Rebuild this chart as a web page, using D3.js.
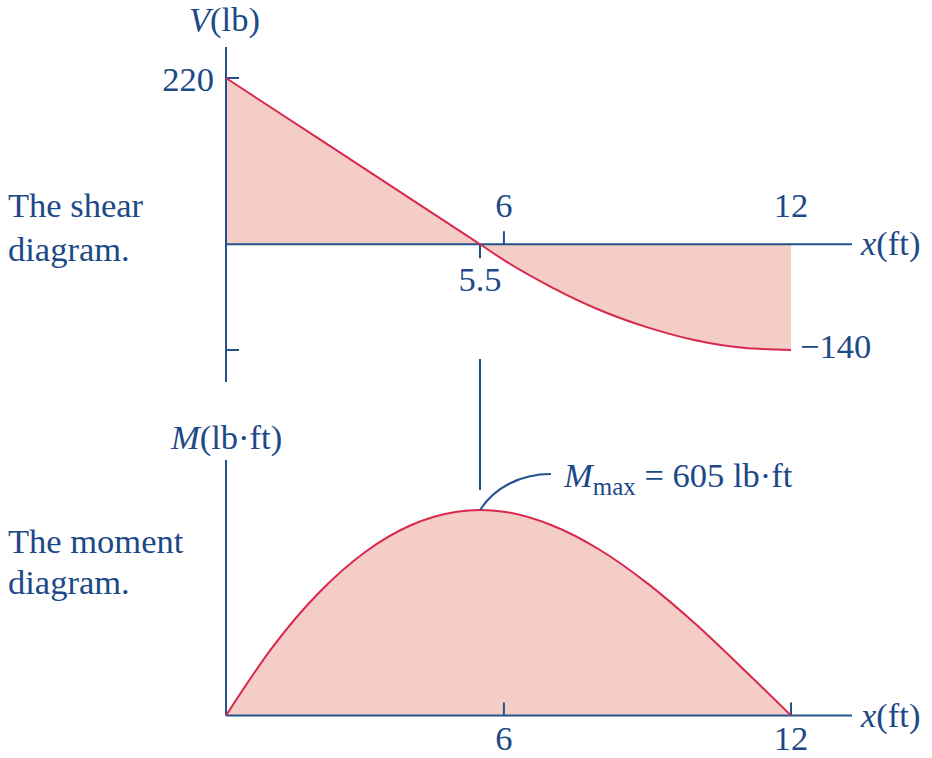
<!DOCTYPE html>
<html>
<head>
<meta charset="utf-8">
<script src="https://cdn.jsdelivr.net/npm/d3@7/dist/d3.min.js"></script>
<style>
  html, body { margin: 0; padding: 0; background: #fff; }
  svg text { font-family: "Liberation Serif", "DejaVu Serif", serif; fill: #1c4987; }
</style>
</head>
<body>
<svg id="chart" width="932" height="758"></svg>
<script>
// Positions along the beam, ft
const xPos = [0, 1, 2, 3, 4, 5, 5.5, 6, 7, 8, 9, 10, 11, 12];
// Shear force V, lb
const shear = [220, 180, 140, 100, 60, 20, 0, -21, -57, -87, -110, -127, -137, -140];
// Bending moment M, lb·ft
const moment = [0, 200, 360, 480, 560, 600, 605, 600, 560, 488, 389, 270, 137, 0];

const shearTicks = [220, -140];
const xTicksTop = [6, 12];
const xTicksBottom = [6, 12];
const zeroShearX = 5.5;
const mMax = 605;

const INK = "#24528c";
const CURVE = "#d8284e";
const FILL = "#f5cdc7";
const FS = 34.5;

const svg = d3.select("#chart");

// beam axis, with the zero-shear point pinned where the sketch places it
const x = d3.scaleLinear().domain([0, 5.5, 12]).range([226, 480, 791]);
const yV = d3.scaleLinear().domain([-140, 220]).range([350, 78]);
const yM = d3.scaleLinear().domain([0, 605]).range([715.5, 510]);

const shearData = xPos.map((d, i) => ({ x: d, v: shear[i] }));
const momentData = xPos.map((d, i) => ({ x: d, m: moment[i] }));

// ---------- Shear diagram ----------
const gV = svg.append("g");

gV.append("path")
  .datum(shearData)
  .attr("fill", FILL)
  .attr("d", d3.area().curve(d3.curveMonotoneX)
    .x(d => x(d.x)).y0(yV(0)).y1(d => yV(d.v)));

// vertical axis
gV.append("line")
  .attr("x1", x(0)).attr("x2", x(0))
  .attr("y1", 47).attr("y2", 382)
  .attr("stroke", INK).attr("stroke-width", 2);

// horizontal axis
gV.append("line")
  .attr("x1", x(0)).attr("x2", 852)
  .attr("y1", yV(0)).attr("y2", yV(0))
  .attr("stroke", INK).attr("stroke-width", 2);

// V ticks
gV.selectAll(".vtick").data(shearTicks).join("line")
  .attr("x1", x(0)).attr("x2", x(0) + 13)
  .attr("y1", d => yV(d)).attr("y2", d => yV(d))
  .attr("stroke", INK).attr("stroke-width", 2);

gV.append("text").attr("x", 214).attr("y", yV(220) + 13)
  .attr("text-anchor", "end").attr("font-size", FS).text("220");
gV.append("text").attr("x", 800).attr("y", yV(-140) + 8)
  .attr("font-size", FS).text("\u2212140");

// x ticks above the axis
gV.selectAll(".xtick").data(xTicksTop.filter(d => d !== 12)).join("line")
  .attr("x1", d => x(d)).attr("x2", d => x(d))
  .attr("y1", yV(0)).attr("y2", yV(0) - 13)
  .attr("stroke", INK).attr("stroke-width", 2);
gV.selectAll(".xlab").data(xTicksTop).join("text")
  .attr("x", d => x(d)).attr("y", 217)
  .attr("text-anchor", "middle").attr("font-size", FS).text(d => d);

// zero-shear tick and label
gV.append("line")
  .attr("x1", x(zeroShearX)).attr("x2", x(zeroShearX))
  .attr("y1", yV(0)).attr("y2", yV(0) + 14)
  .attr("stroke", INK).attr("stroke-width", 2);
gV.append("text").attr("x", x(zeroShearX)).attr("y", 291)
  .attr("text-anchor", "middle").attr("font-size", FS).text("5.5");

gV.append("path")
  .datum(shearData)
  .attr("fill", "none").attr("stroke", CURVE).attr("stroke-width", 2)
  .attr("d", d3.line().curve(d3.curveMonotoneX)
    .x(d => x(d.x)).y(d => yV(d.v)));

// axis titles
const vt = gV.append("text").attr("x", 189).attr("y", 31).attr("font-size", FS);
vt.append("tspan").attr("font-style", "italic").text("V");
vt.append("tspan").text("(lb)");

const xt1 = gV.append("text").attr("x", 861).attr("y", yV(0) + 11).attr("font-size", FS);
xt1.append("tspan").attr("font-style", "italic").text("x");
xt1.append("tspan").text("(ft)");

gV.append("text").attr("x", 8).attr("y", 217).attr("font-size", FS).text("The shear");
gV.append("text").attr("x", 8).attr("y", 261).attr("font-size", FS).text("diagram.");

// guide line linking zero shear to maximum moment
svg.append("line")
  .attr("x1", x(zeroShearX)).attr("x2", x(zeroShearX))
  .attr("y1", 359).attr("y2", 490)
  .attr("stroke", INK).attr("stroke-width", 2);

// ---------- Moment diagram ----------
const gM = svg.append("g");

gM.append("path")
  .datum(momentData)
  .attr("fill", FILL)
  .attr("d", d3.area().curve(d3.curveMonotoneX)
    .x(d => x(d.x)).y0(yM(0)).y1(d => yM(d.m)));

gM.append("line")
  .attr("x1", x(0)).attr("x2", x(0))
  .attr("y1", 460).attr("y2", yM(0))
  .attr("stroke", INK).attr("stroke-width", 2);
gM.append("line")
  .attr("x1", x(0)).attr("x2", 852)
  .attr("y1", yM(0)).attr("y2", yM(0))
  .attr("stroke", INK).attr("stroke-width", 2);

gM.selectAll(".mtick").data(xTicksBottom).join("line")
  .attr("x1", d => x(d)).attr("x2", d => x(d))
  .attr("y1", yM(0)).attr("y2", yM(0) - 13)
  .attr("stroke", INK).attr("stroke-width", 2);
gM.selectAll(".mlab").data(xTicksBottom).join("text")
  .attr("x", d => x(d)).attr("y", 750)
  .attr("text-anchor", "middle").attr("font-size", FS).text(d => d);

gM.append("path")
  .datum(momentData)
  .attr("fill", "none").attr("stroke", CURVE).attr("stroke-width", 2)
  .attr("d", d3.line().curve(d3.curveMonotoneX)
    .x(d => x(d.x)).y(d => yM(d.m)));

const mt = gM.append("text").attr("x", 171).attr("y", 449).attr("font-size", FS);
mt.append("tspan").attr("font-style", "italic").text("M");
mt.append("tspan").text("(lb\u00b7ft)");

const xt2 = gM.append("text").attr("x", 861).attr("y", yM(0) + 11).attr("font-size", FS);
xt2.append("tspan").attr("font-style", "italic").text("x");
xt2.append("tspan").text("(ft)");

gM.append("text").attr("x", 8).attr("y", 553).attr("font-size", FS).text("The moment");
gM.append("text").attr("x", 8).attr("y", 594).attr("font-size", FS).text("diagram.");

// maximum-moment callout
const px = x(zeroShearX), py = yM(mMax);
gM.append("path")
  .attr("fill", "none").attr("stroke", INK).attr("stroke-width", 2)
  .attr("d", `M${px},${py} C${px + 14},${py - 22} ${px + 40},${py - 36} ${px + 71},${py - 36}`);

const ann = gM.append("text").attr("x", px + 84).attr("y", 487).attr("font-size", FS);
ann.append("tspan").attr("font-style", "italic").text("M");
ann.append("tspan").attr("font-size", 25).attr("dy", 8).text("max");
ann.append("tspan").attr("dy", -8).text(" = 605 lb\u00b7ft");
</script>
</body>
</html>
